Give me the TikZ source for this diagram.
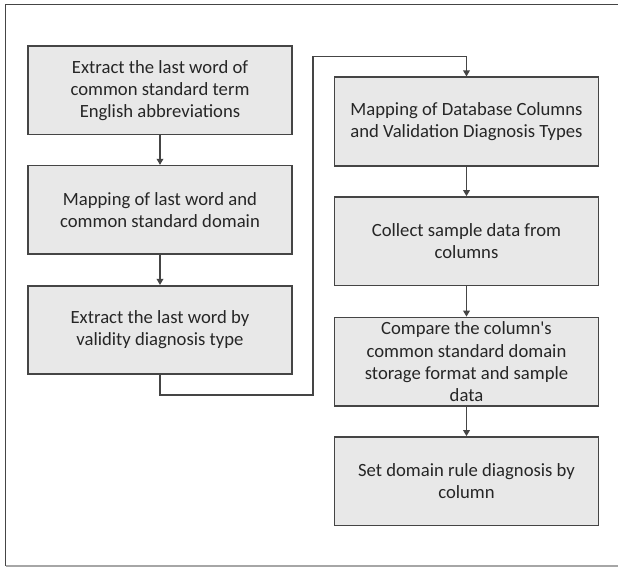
\documentclass[tikz,border=0pt]{standalone}
\usepackage{fontspec}
\setmainfont{Carlito}
\usetikzlibrary{arrows.meta}
\definecolor{boxfill}{HTML}{E8E8E8}
\definecolor{boxline}{HTML}{454545}
\begin{document}
\begin{tikzpicture}[x=0.75pt,y=-0.75pt,
  stepbox/.style={draw=boxline,fill=boxfill,line width=1.2pt,minimum width=198pt,minimum height=66.4pt,
    align=center,inner sep=2pt,font=\fontsize{14}{16.6}\selectfont,text=black!85},
  conn/.style={draw=boxline,line width=0.9pt},
  arr/.style={conn,-{Triangle[width=5pt,length=4.5pt]}}]
\clip (0,0) rectangle (618,568);
\useasboundingbox (0,0) rectangle (618,568);
\draw[boxline,line width=1.1pt] (5.5,566) -- (5.5,4.5) -- (640,4.5);
\draw[black!35,line width=1.1pt] (5.5,566) -- (640,566);
\node[stepbox] (a1) at (160,90.4) {Extract the last word of\\common standard term\\English abbreviations};
\node[stepbox] (a2) at (160,209.9) {Mapping of last word and\\common standard domain};
\node[stepbox] (a3) at (160,330) {Extract the last word by\\validity diagnosis type};
\node[stepbox] (b1) at (466.5,121.5) {Mapping of Database Columns\\and Validation Diagnosis Types};
\node[stepbox] (b2) at (466.5,241.2) {Collect sample data from\\columns};
\node[stepbox] (b3) at (466.5,361.7) {Compare the column\textquotesingle s\\common standard domain\\storage format and sample\\data};
\node[stepbox] (b4) at (466.5,481.2) {Set domain rule diagnosis by\\column};
\coordinate (p1) at (160,395);
\coordinate (p2) at (313,395);
\coordinate (p3) at (313,56.5);
\draw[arr] (a1) -- (a2);
\draw[arr] (a2) -- (a3);
\draw[arr] (a3.south) -- (p1) -- (p2) -- (p3) -- (b1.north |- p3) -- (b1.north);
\draw[arr] (b1) -- (b2);
\draw[arr] (b2) -- (b3);
\draw[arr] (b3) -- (b4);
\end{tikzpicture}
\end{document}
